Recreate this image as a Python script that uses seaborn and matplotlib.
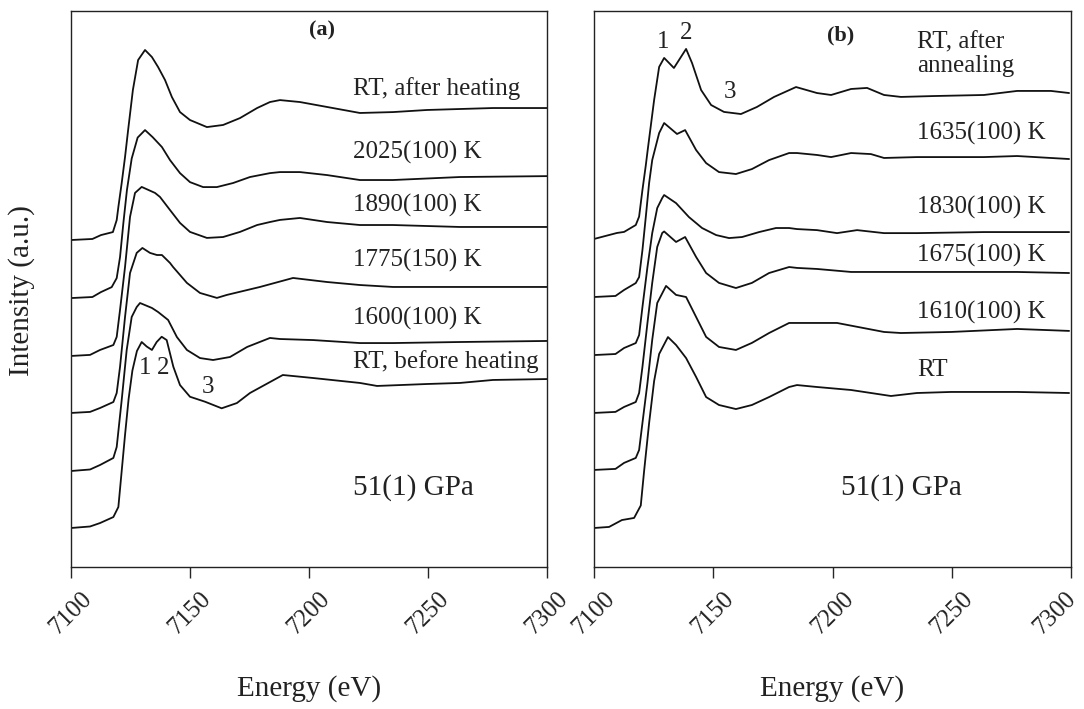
import pandas as pd
import seaborn as sns
import matplotlib.pyplot as plt
from matplotlib.transforms import ScaledTranslation

# Panel (a) spectra (energy in eV, normalised intensity)
e_a_rt_before = [7100, 7108, 7112.2, 7117.8, 7119.9, 7121.3, 7122.7, 7124.2, 7125.8, 7127.7, 7129.7,
                 7131.8, 7134, 7136, 7138.1, 7140.2, 7143, 7145.8, 7150, 7156.3, 7163.3, 7169.7,
                 7175.2, 7183.6, 7189, 7201.7, 7221.4, 7228.6, 7249.6, 7263.4, 7277.3, 7300]
i_a_rt_before = [0, 0.01, 0.033, 0.073, 0.14, 0.38, 0.62, 0.86, 1.05, 1.18, 1.24,
                 1.21, 1.187, 1.24, 1.275, 1.253, 1.075, 0.953, 0.875, 0.842, 0.798, 0.833,
                 0.9, 0.973, 1.02, 1.0, 0.967, 0.947, 0.96, 0.967, 0.987, 0.993]

e_a_1600 = [7100, 7108, 7112.2, 7117.8, 7119.2, 7121.3, 7123.4, 7125.5, 7127.6, 7129, 7134,
            7136.6, 7140.8, 7144.5, 7148.7, 7154.2, 7159.7, 7166.8, 7174, 7183.6, 7187.8,
            7201.7, 7221.4, 7235.3, 7263.4, 7300]
i_a_1600 = [0, 0.01, 0.04, 0.087, 0.16, 0.473, 0.807, 1.027, 1.093, 1.12, 1.087,
            1.06, 1.007, 0.893, 0.807, 0.753, 0.74, 0.76, 0.827, 0.887, 0.88,
            0.873, 0.853, 0.853, 0.86, 0.867]

e_a_1775 = [7100, 7108, 7112.2, 7117.8, 7119.2, 7120.6, 7122.7, 7124.8, 7127.6, 7130, 7133.2,
            7136.1, 7138.2, 7141.6, 7142.9, 7148.7, 7154.2, 7161.3, 7165.5, 7179.4, 7193.3,
            7207.6, 7221.4, 7235.3, 7300]
i_a_1775 = [0, 0.007, 0.033, 0.073, 0.133, 0.307, 0.64, 0.933, 1.067, 1.1, 1.067,
            1.053, 1.053, 1.0, 0.973, 0.867, 0.8, 0.767, 0.787, 0.84, 0.9,
            0.873, 0.853, 0.84, 0.84]

e_a_1890 = [7100, 7108, 7112.2, 7117.8, 7119.2, 7120.6, 7122.7, 7124.8, 7126.9, 7129.7, 7135.3,
            7137.4, 7141.6, 7145.8, 7150, 7157.1, 7163.9, 7171, 7178.2, 7183.6, 7187.8,
            7196.2, 7207.6, 7221.4, 7235.3, 7263.4, 7300]
i_a_1890 = [0, 0.007, 0.04, 0.073, 0.127, 0.307, 0.593, 0.927, 1.087, 1.127, 1.087,
            1.06, 0.973, 0.887, 0.827, 0.787, 0.793, 0.827, 0.873, 0.893, 0.907,
            0.92, 0.893, 0.873, 0.873, 0.86, 0.86]

e_a_2025 = [7100, 7109, 7112.6, 7117.1, 7119.2, 7120.6, 7122, 7123.5, 7125.5, 7128, 7131.1,
            7134.3, 7138.2, 7141.6, 7145.8, 7150, 7155.5, 7161.3, 7168.1, 7175.2, 7183.6,
            7187.8, 7196.2, 7207.6, 7221.4, 7235.3, 7263.4, 7300]
i_a_2025 = [0, 0.007, 0.04, 0.073, 0.133, 0.273, 0.5, 0.72, 0.93, 1.07, 1.12,
            1.073, 1.007, 0.92, 0.833, 0.773, 0.74, 0.74, 0.767, 0.807, 0.833,
            0.84, 0.84, 0.82, 0.787, 0.787, 0.807, 0.813]

e_a_rt_after = [7100, 7109, 7112.6, 7117.6, 7119.2, 7119.9, 7121.3, 7122.7, 7124, 7126, 7128.2,
                7131.1, 7134, 7136.6, 7139.5, 7142.4, 7145.8, 7150, 7157.1, 7163.9, 7171,
                7178.2, 7183.6, 7187.8, 7196.2, 7207.6, 7221.4, 7235.3, 7249.6, 7277.3, 7300]
i_a_rt_after = [0, 0.007, 0.033, 0.053, 0.133, 0.22, 0.38, 0.553, 0.733, 1.0, 1.2,
                1.267, 1.22, 1.153, 1.067, 0.953, 0.853, 0.8, 0.753, 0.767, 0.813,
                0.88, 0.92, 0.933, 0.92, 0.887, 0.847, 0.853, 0.867, 0.88, 0.88]

# Panel (b) spectra
e_b_rt = [7100, 7106.3, 7111.7, 7116.8, 7119.6, 7121, 7123.1, 7125.2, 7127.3, 7131, 7134.4,
          7138.6, 7142.8, 7147, 7152.4, 7159.5, 7166.2, 7173.4, 7181.8, 7185.1, 7193.5,
          7207.8, 7224.5, 7235.4, 7249.7, 7263.5, 7277.4, 7299.2]
i_b_rt = [0, 0.007, 0.053, 0.067, 0.15, 0.38, 0.7, 0.98, 1.16, 1.273, 1.22,
          1.133, 1.007, 0.873, 0.82, 0.793, 0.82, 0.873, 0.94, 0.953, 0.94,
          0.92, 0.88, 0.9, 0.907, 0.907, 0.907, 0.9]

e_b_1610 = [7100, 7109, 7112.6, 7117.5, 7118.9, 7120.3, 7122.4, 7124.4, 7126.5, 7130.2, 7134.4,
            7138.6, 7142.8, 7147, 7152.4, 7159.5, 7166.2, 7173.4, 7181.8, 7185.1, 7201.9,
            7221.6, 7228.7, 7249.7, 7277.4, 7299.2]
i_b_1610 = [0, 0.007, 0.047, 0.08, 0.133, 0.313, 0.58, 0.867, 1.113, 1.227, 1.167,
            1.153, 1.02, 0.887, 0.82, 0.8, 0.847, 0.913, 0.98, 0.98, 0.98,
            0.92, 0.913, 0.92, 0.94, 0.927]

e_b_1675 = [7100, 7109, 7112.6, 7117.5, 7118.9, 7120.3, 7122.4, 7124.4, 7126.5, 7128.6, 7129.4,
            7134.4, 7138.2, 7142.8, 7147, 7152.4, 7159.5, 7166.2, 7173.4, 7181.8, 7185.1,
            7193.5, 7207.8, 7221.6, 7249.7, 7277.4, 7299.2]
i_b_1675 = [0, 0.007, 0.04, 0.073, 0.133, 0.307, 0.6, 0.867, 1.107, 1.2, 1.21,
            1.14, 1.173, 1.04, 0.933, 0.867, 0.833, 0.867, 0.933, 0.973, 0.967,
            0.96, 0.94, 0.94, 0.94, 0.94, 0.933]

e_b_1830 = [7100, 7109, 7112.6, 7117.5, 7118.9, 7120.3, 7122.4, 7124.4, 7126.5, 7128.6, 7129.4,
            7134.4, 7139.8, 7145.3, 7151.2, 7156.6, 7162.1, 7169.2, 7176.3, 7181.8, 7185.1,
            7193.5, 7201.9, 7210.3, 7221.6, 7235.4, 7263.5, 7299.2]
i_b_1830 = [0, 0.007, 0.047, 0.08, 0.133, 0.32, 0.587, 0.813, 0.98, 1.047, 1.067,
            1.013, 0.92, 0.847, 0.8, 0.78, 0.787, 0.82, 0.847, 0.847, 0.84,
            0.833, 0.813, 0.833, 0.813, 0.813, 0.82, 0.82]

e_b_1635 = [7100, 7109, 7112.6, 7117.5, 7118.9, 7120.3, 7121.7, 7123.1, 7124.4, 7127.3, 7129.4,
            7134.8, 7138.2, 7142.8, 7147, 7152.4, 7159.5, 7166.2, 7173.4, 7181.8, 7185.1,
            7193.5, 7199.4, 7207.8, 7216.1, 7221.6, 7235.4, 7263.5, 7277.4, 7299.2]
i_b_1635 = [0, 0.007, 0.047, 0.093, 0.133, 0.313, 0.533, 0.76, 0.913, 1.093, 1.16,
            1.087, 1.113, 0.98, 0.893, 0.833, 0.82, 0.853, 0.913, 0.96, 0.96,
            0.947, 0.933, 0.96, 0.953, 0.927, 0.933, 0.933, 0.94, 0.92]

e_b_rt_after = [7100, 7109.6, 7112.6, 7117.5, 7118.9, 7120.3, 7121.7, 7122.5, 7125.2, 7127.3, 7129.4,
                7133.5, 7138.6, 7141.1, 7144.9, 7149.1, 7154.5, 7161.6, 7168.3, 7175.5, 7184.7,
                7193.5, 7199.4, 7207.8, 7214.5, 7221.6, 7228.7, 7242.6, 7263.5, 7277.4, 7291.6, 7299.2]
i_b_rt_after = [0, 0.04, 0.047, 0.093, 0.149, 0.327, 0.49, 0.593, 0.927, 1.147, 1.207,
                1.14, 1.267, 1.173, 0.993, 0.893, 0.847, 0.833, 0.88, 0.947, 1.013,
                0.973, 0.96, 1.0, 1.007, 0.96, 0.947, 0.953, 0.96, 0.987, 0.987, 0.973]

labels_a = ["RT, before heating", "1600(100) K", "1775(150) K", "1890(100) K", "2025(100) K", "RT, after heating"]
labels_b = ["RT", "1610(100) K", "1675(100) K", "1830(100) K", "1635(100) K", "RT, after\nannealing"]
offsets_a = [0, 0.38, 0.767, 1.147, 1.533, 1.92]
offsets_b = [0, 0.387, 0.767, 1.153, 1.54, 1.927]

spectra_a = [(e_a_rt_before, i_a_rt_before), (e_a_1600, i_a_1600), (e_a_1775, i_a_1775),
             (e_a_1890, i_a_1890), (e_a_2025, i_a_2025), (e_a_rt_after, i_a_rt_after)]
spectra_b = [(e_b_rt, i_b_rt), (e_b_1610, i_b_1610), (e_b_1675, i_b_1675),
             (e_b_1830, i_b_1830), (e_b_1635, i_b_1635), (e_b_rt_after, i_b_rt_after)]

# Long-form table with the stacking offset applied
rows = []
for panel, spectra, offsets, labels in [("a", spectra_a, offsets_a, labels_a),
                                        ("b", spectra_b, offsets_b, labels_b)]:
    for (e, i), off, lab in zip(spectra, offsets, labels):
        for ev, iv in zip(e, i):
            rows.append({"panel": panel, "curve": lab, "energy": ev, "intensity": iv + off})
df = pd.DataFrame(rows)

sns.set_style("ticks")
plt.rcParams["font.family"] = ["Liberation Serif", "DejaVu Serif"]

fig = plt.figure(figsize=(10.84, 7.09), dpi=100)
ax_a = fig.add_axes([0.0655, 0.2003, 0.4391, 0.7842])
ax_b = fig.add_axes([0.548, 0.2003, 0.44, 0.7842])

txt = "#222222"

for ax, panel in [(ax_a, "a"), (ax_b, "b")]:
    sns.lineplot(data=df[df["panel"] == panel], x="energy", y="intensity", units="curve",
                 estimator=None, sort=False, color="#111111", linewidth=1.3, ax=ax)
    ax.set_xlim(7100, 7300)
    ax.set_ylim(-0.26, 3.447)
    ax.set_xticks([7100, 7150, 7200, 7250, 7300])
    ax.set_yticks([])
    ax.tick_params(axis="x", direction="out", length=8, width=1, pad=7, labelsize=18,
                   labelcolor=txt, rotation=45)
    for lab in ax.get_xticklabels():
        lab.set_ha("center")
    for s in ax.spines.values():
        s.set_visible(True)
        s.set_color("#222222")
        s.set_linewidth(1.0)
    ax.set_xlabel("Energy (eV)", fontsize=21, color=txt)
    ax.xaxis.label.set_va("center")
    ax.xaxis.set_label_coords(0.5, -0.218)
    ax.set_ylabel("")

# nudge the last tick label so it stays inside the figure
last = ax_b.get_xticklabels()[-1]
last.set_transform(last.get_transform() + ScaledTranslation(-16 / 100, 0, fig.dpi_scale_trans))

ax_a.set_ylabel("Intensity (a.u.)", fontsize=21, color=txt)
ax_a.yaxis.label.set_va("center")
ax_a.yaxis.set_label_coords(-0.103, 0.498)

# Panel (a) annotations
ax_a.text(7205.5, 3.32, "(a)", fontsize=16, fontweight="bold", ha="center", va="center", color=txt)
ya = [1.107, 1.4, 1.787, 2.153, 2.507, 2.933]
for lab, y in zip(labels_a, ya):
    ax_a.text(7218.5, y, lab, fontsize=18, ha="left", va="center", color=txt)
ax_a.text(7131.1, 1.067, "1", fontsize=18, ha="center", va="center", color=txt)
ax_a.text(7138.7, 1.067, "2", fontsize=18, ha="center", va="center", color=txt)
ax_a.text(7157.6, 0.94, "3", fontsize=18, ha="center", va="center", color=txt)
ax_a.text(7218.5, 0.267, "51(1) GPa", fontsize=21, ha="left", va="center", color=txt)

# Panel (b) annotations
ax_b.text(7203.6, 3.287, "(b)", fontsize=16, fontweight="bold", ha="center", va="center", color=txt)
yb = [1.053, 1.44, 1.82, 2.14, 2.633, 3.16]
for lab, y in zip(labels_b, yb):
    ax_b.text(7235.4, y, lab, fontsize=18, ha="left", va="center", color=txt, linespacing=1.1)
ax_b.text(7128.9, 3.24, "1", fontsize=18, ha="center", va="center", color=txt)
ax_b.text(7138.6, 3.30, "2", fontsize=18, ha="center", va="center", color=txt)
ax_b.text(7157.0, 2.907, "3", fontsize=18, ha="center", va="center", color=txt)
ax_b.text(7203.6, 0.267, "51(1) GPa", fontsize=21, ha="left", va="center", color=txt)

fig.savefig("out.png", dpi=100)
